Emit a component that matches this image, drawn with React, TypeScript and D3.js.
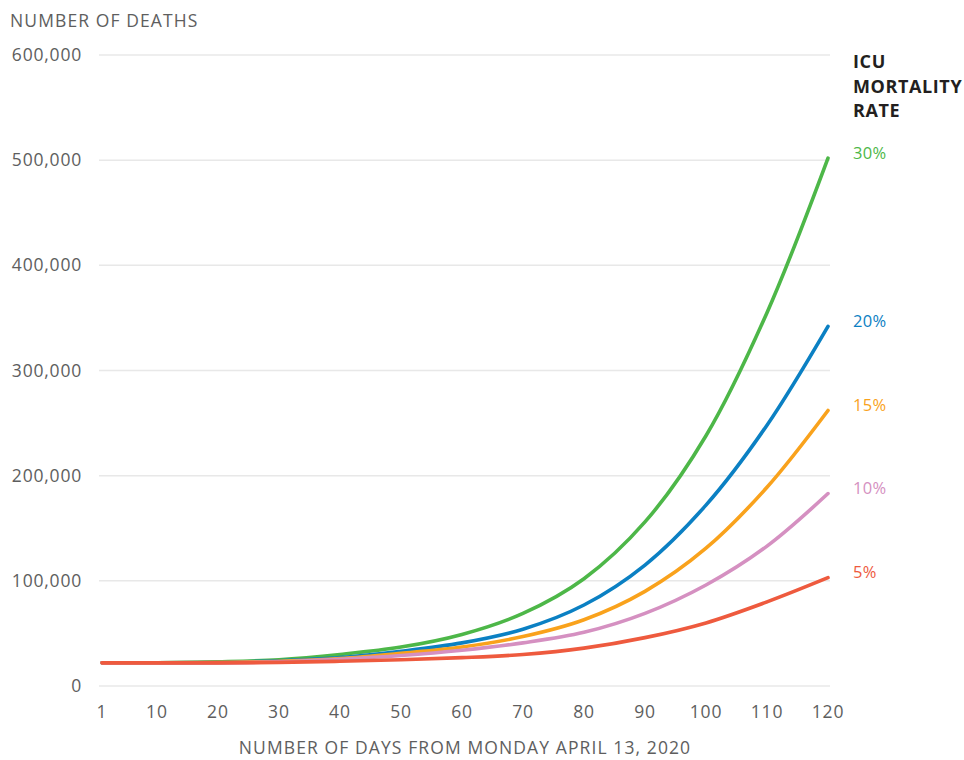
import React from "react";
import * as d3 from "d3";

const days = [1, 10, 20, 30, 40, 50, 60, 70, 80, 90, 100, 110, 120];
const rate30 = [22000, 22000, 23000, 25000, 30000, 37000, 49000, 69000, 102000, 156000, 238000, 355000, 502000];
const rate20 = [22000, 22000, 22500, 24000, 27000, 33000, 41000, 54000, 77000, 115000, 172000, 248000, 342000];
const rate15 = [22000, 22000, 22500, 23500, 26000, 31000, 37000, 47000, 63000, 90000, 131000, 189000, 262000];
const rate10 = [22000, 22000, 22000, 23000, 25500, 29000, 34000, 41000, 51000, 69000, 96000, 133000, 183000];
const rate5 = [22000, 22000, 22000, 22500, 23500, 25000, 27000, 30000, 36000, 46000, 60000, 80000, 103000];

const seriesNames = ["30%", "20%", "15%", "10%", "5%"];
const seriesValues = [rate30, rate20, rate15, rate10, rate5];
const seriesColors = ["#4db748", "#0b80c3", "#f9a21c", "#d590c1", "#ee5a3e"];

const xTicks = [1, 10, 20, 30, 40, 50, 60, 70, 80, 90, 100, 110, 120];
const yTicks = [0, 100000, 200000, 300000, 400000, 500000, 600000];

const legendTitle = ["ICU", "MORTALITY", "RATE"];

export default function App() {
  const W = 964, H = 760;
  const x = d3.scaleLinear().domain([1, 120]).range([102, 828]);
  const y = d3.scaleLinear().domain([0, 600000]).range([686, 55]);
  const line = d3
    .line<[number, number]>()
    .x((d) => x(d[0]))
    .y((d) => y(d[1]))
    .curve(d3.curveCatmullRom.alpha(0.5));
  const fmt = d3.format(",");
  const font = "'Open Sans', sans-serif";
  const grey = "#5e5e5e";
  const fs = 17.5;
  const ls = 1.1;

  return (
    <svg
      width={W}
      height={H}
      style={{ position: "absolute", left: 0, top: 0, background: "#fff" }}
      fontFamily={font}
    >
      <text x={10} y={27} fontSize={fs} letterSpacing={ls} fill={grey}>
        NUMBER OF DEATHS
      </text>
      {yTicks.map((t) => (
        <g key={t}>
          <line x1={99} x2={830} y1={y(t)} y2={y(t)} stroke="#e8e8e8" strokeWidth={1.5} />
          <text x={82} y={y(t)} dy="0.35em" textAnchor="end" fontSize={fs} letterSpacing={0.8} fill={grey}>
            {fmt(t)}
          </text>
        </g>
      ))}
      {xTicks.map((t) => (
        <text key={t} x={x(t)} y={712} dy="0.35em" textAnchor="middle" fontSize={fs} letterSpacing={0.8} fill={grey}>
          {t}
        </text>
      ))}
      <text x={465} y={754} textAnchor="middle" fontSize={fs} letterSpacing={ls} fill={grey}>
        NUMBER OF DAYS FROM MONDAY APRIL 13, 2020
      </text>
      {seriesValues.map((vals, i) => (
        <path
          key={seriesNames[i]}
          d={line(days.map((d, j) => [d, vals[j]] as [number, number])) || ""}
          fill="none"
          stroke={seriesColors[i]}
          strokeWidth={3.6}
          strokeLinecap="round"
        />
      ))}
      {legendTitle.map((s, i) => (
        <text key={s} x={853} y={68 + i * 24.5} fontSize={18} letterSpacing={0.6} fontWeight={700} fill="#231f20">
          {s}
        </text>
      ))}
      {seriesValues.map((vals, i) => (
        <text
          key={"l" + i}
          x={853}
          y={y(vals[vals.length - 1]) - 5}
          dy="0.35em"
          fontSize={16.5}
          letterSpacing={0.3}
          fill={seriesColors[i]}
        >
          {seriesNames[i]}
        </text>
      ))}
    </svg>
  );
}
